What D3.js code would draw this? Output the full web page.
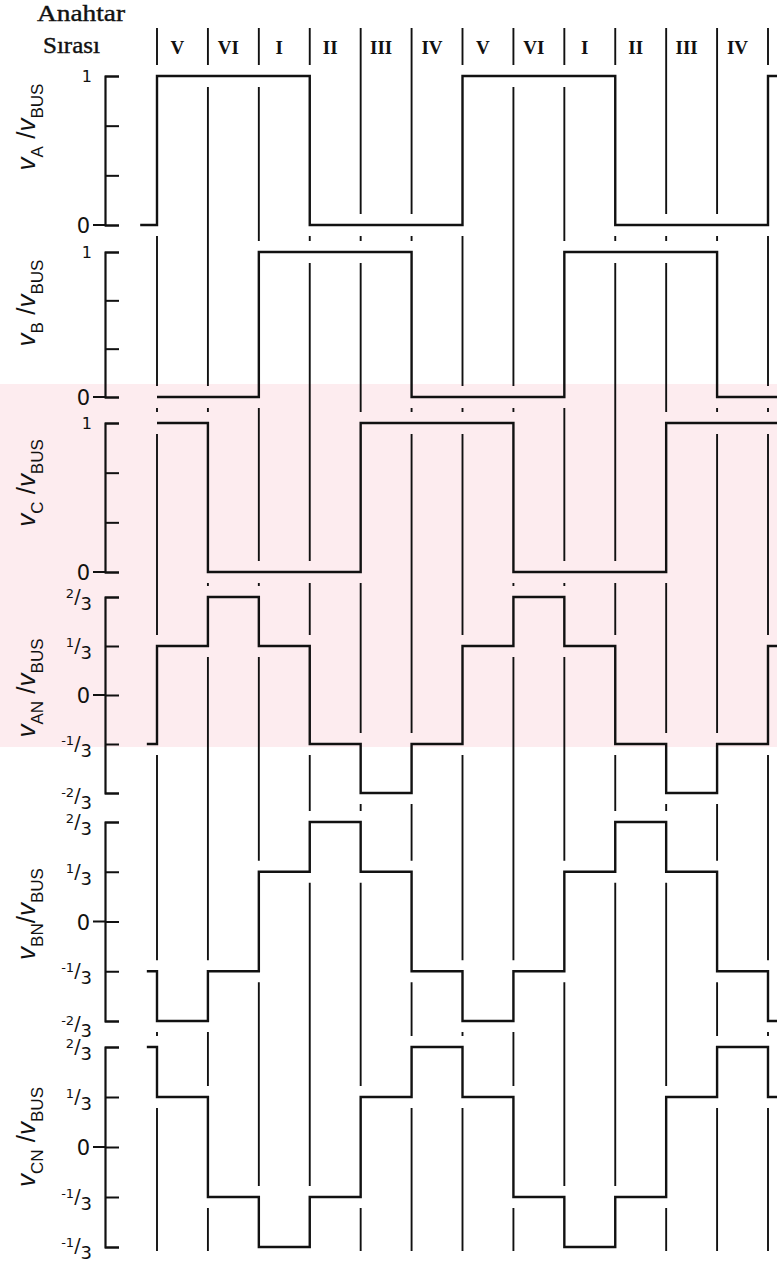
<!DOCTYPE html>
<html>
<head>
<meta charset="utf-8">
<script src="https://cdn.jsdelivr.net/npm/d3@7"></script>
<style>
  body { margin: 0; background: #fff; }
  svg { display: block; }
</style>
</head>
<body>
<div id="chart"></div>
<script>
// switching sectors, left to right
const sectorLabels = ["V", "VI", "I", "II", "III", "IV", "V", "VI", "I", "II", "III", "IV"];

// per series: value just before the first boundary (null = not drawn),
// the 12 sectors, then the sector that starts at the last boundary
const vA  = [0,    1, 1, 1, 0, 0, 0, 1, 1, 1, 0, 0, 0,  1];
const vB  = [null, 0, 0, 1, 1, 1, 0, 0, 0, 1, 1, 1, 0,  0];
const vC  = [null, 1, 0, 0, 0, 1, 1, 1, 0, 0, 0, 1, 1,  1];
const vAN = [-1/3,  1/3,  2/3,  1/3, -1/3, -2/3, -1/3,  1/3,  2/3,  1/3, -1/3, -2/3, -1/3,  1/3];
const vBN = [-1/3, -2/3, -1/3,  1/3,  2/3,  1/3, -1/3, -2/3, -1/3,  1/3,  2/3,  1/3, -1/3, -2/3];
const vCN = [ 2/3,  1/3, -1/3, -2/3, -1/3,  1/3,  2/3,  1/3, -1/3, -2/3, -1/3,  1/3,  2/3,  1/3];

const phaseTicks = [0, 1/3, 2/3, 1];
const phaseTickLabels = ["0", "", "", "1"];
const lineTicks = [-2/3, -1/3, 0, 1/3, 2/3];
const lineTickLabels = [["-2", "3"], ["-1", "3"], ["0"], ["1", "3"], ["2", "3"]];
// the source prints the bottom label of the last panel as -1/3
const cnTickLabels = [["-1", "3"], ["-1", "3"], ["0"], ["1", "3"], ["2", "3"]];

const W = 777, H = 1265;
const axisX = 105;
const gap = 11;
const lineTop = 28, lineBottom = 1251;

const x = d3.scaleLinear().domain([0, 12]).range([157, 768]);

const panels = [
  { values: vA,  start: -0.33, range: [225, 76],   domain: [0, 1],       ticks: phaseTicks, labels: phaseTickLabels, sub: "A",  sep: " /",  cy: 127,  low: 0 },
  { values: vB,  start: 0,     range: [397, 252],  domain: [0, 1],       ticks: phaseTicks, labels: phaseTickLabels, sub: "B",  sep: " /",  cy: 303,  low: 0 },
  { values: vC,  start: 0,     range: [572, 423],  domain: [0, 1],       ticks: phaseTicks, labels: phaseTickLabels, sub: "C",  sep: "  /", cy: 483,  low: 0 },
  { values: vAN, start: -0.2,  range: [793, 597],  domain: [-2/3, 2/3],  ticks: lineTicks,  labels: lineTickLabels,  sub: "AN", sep: " /",  cy: 688,  low: 3 },
  { values: vBN, start: -0.2,  range: [1021, 822], domain: [-2/3, 2/3],  ticks: lineTicks,  labels: lineTickLabels,  sub: "BN", sep: "/",   cy: 914,  low: 3 },
  { values: vCN, start: -0.2,  range: [1247, 1047],domain: [-2/3, 2/3],  ticks: lineTicks,  labels: cnTickLabels,    sub: "CN", sep: " /",  cy: 1137, low: -1 }
];
panels.forEach(p => { p.y = d3.scaleLinear().domain(p.domain).range(p.range); });

const svg = d3.select("#chart").append("svg")
  .attr("width", W).attr("height", H)
  .attr("viewBox", `0 0 ${W} ${H}`);

// faint watermark band behind the plot
svg.append("rect")
  .attr("x", 0).attr("y", 384).attr("width", W).attr("height", 363)
  .attr("fill", "#fdecef");

const ink = "#111";

// header
svg.append("text")
  .attr("x", 37).attr("y", 21)
  .attr("textLength", 88).attr("lengthAdjust", "spacingAndGlyphs")
  .style("font", "23px 'Liberation Serif', serif")
  .attr("fill", ink).attr("stroke", ink).attr("stroke-width", 0.4)
  .text("Anahtar");
svg.append("text")
  .attr("x", 43).attr("y", 53)
  .attr("textLength", 57).attr("lengthAdjust", "spacingAndGlyphs")
  .style("font", "23px 'Liberation Serif', serif")
  .attr("fill", ink).attr("stroke", ink).attr("stroke-width", 0.4)
  .text("Sırası");

svg.selectAll(".sector")
  .data(sectorLabels)
  .enter().append("text")
  .attr("class", "sector")
  .attr("x", (d, i) => x(i + 0.5) - 5)
  .attr("y", 54)
  .attr("text-anchor", "middle")
  .style("font", "bold 19px 'Liberation Serif', serif")
  .attr("fill", ink)
  .text(d => d);

// boundary lines, broken wherever a waveform level crosses them
const segs = [];
d3.range(13).forEach(k => {
  const occ = panels.map(p => {
    const right = p.values[k + 1];
    const left = (k === 0 && p.values[0] === null) ? right : p.values[k];
    const a = p.y(left), b = p.y(right);
    return [Math.min(a, b), Math.max(a, b)];
  }).sort((a, b) => a[0] - b[0]);
  let y0 = lineTop;
  occ.forEach(([a, b]) => {
    if (a - gap > y0) segs.push([k, y0, a - gap]);
    y0 = Math.max(y0, b + gap);
  });
  if (lineBottom > y0) segs.push([k, y0, lineBottom]);
});

svg.append("g").selectAll("line")
  .data(segs)
  .enter().append("line")
  .attr("x1", d => x(d[0])).attr("x2", d => x(d[0]))
  .attr("y1", d => d[1]).attr("y2", d => d[2])
  .attr("stroke", ink).attr("stroke-width", 1.9);

// panels
panels.forEach(p => {
  const pts = [];
  if (p.values[0] !== null) pts.push([p.start, p.values[0]]);
  for (let i = 1; i < p.values.length; i++) pts.push([i - 1, p.values[i]]);
  pts.push([p.values.length - 1, p.values[p.values.length - 1]]);

  const line = d3.line()
    .x(d => x(d[0]))
    .y(d => p.y(d[1]))
    .curve(d3.curveStepAfter);

  svg.append("path")
    .datum(pts)
    .attr("d", line)
    .attr("fill", "none")
    .attr("stroke", ink)
    .attr("stroke-width", 2.4);

  const ax = svg.append("g")
    .attr("transform", `translate(${axisX},0)`)
    .call(d3.axisRight(p.y).tickValues(p.ticks).tickSize(14).tickSizeOuter(14).tickFormat(""));
  ax.select(".domain").attr("stroke", ink).attr("stroke-width", 2.2);
  ax.selectAll(".tick line").attr("stroke", ink).attr("stroke-width", 2);
  ax.selectAll(".tick text").remove();
  ax.append("line")
    .attr("x1", -12).attr("x2", 0)
    .attr("y1", p.y(0)).attr("y2", p.y(0))
    .attr("stroke", ink).attr("stroke-width", 2);

  // tick labels
  p.ticks.forEach((t, i) => {
    const lab = p.labels[i];
    const ty = p.y(t);
    if (Array.isArray(lab) && lab.length === 2) {
      const tx = svg.append("text")
        .attr("x", 92).attr("y", ty + 1 + (t < -0.5 ? p.low : 0))
        .attr("text-anchor", "end")
        .style("font-family", "'DejaVu Sans', sans-serif")
        .attr("fill", ink);
      tx.append("tspan").style("font-size", "13px").text(lab[0]);
      tx.append("tspan").style("font-size", "19px").attr("dy", 5).text("/");
      tx.append("tspan").style("font-size", "18px").attr("dy", 7).text(lab[1]);
    } else {
      const s = Array.isArray(lab) ? lab[0] : lab;
      if (!s) return;
      svg.append("text")
        .attr("x", s === "0" ? 90 : 92)
        .attr("y", s === "0" ? ty + 8 : ty + 6)
        .attr("text-anchor", "end")
        .style("font", s === "0" ? "21px 'DejaVu Sans', sans-serif" : "16px 'DejaVu Sans', sans-serif")
        .attr("fill", ink)
        .text(s);
    }
  });

  // rotated axis title
  const title = svg.append("text")
    .attr("transform", `translate(35,${p.cy}) rotate(-90)`)
    .attr("text-anchor", "middle")
    .style("font-family", "'Liberation Sans', Arial, sans-serif")
    .attr("fill", ink);
  title.append("tspan").style("font-size", "26px").style("font-style", "italic").text("v");
  title.append("tspan").style("font-size", "17px").attr("dy", 8).text(p.sub);
  title.append("tspan").style("font-size", "26px").attr("dy", -8).text(p.sep);
  title.append("tspan").style("font-size", "26px").style("font-style", "italic").text("v");
  title.append("tspan").style("font-size", "17px").attr("dy", 8).text("BUS");
});
</script>
</body>
</html>
